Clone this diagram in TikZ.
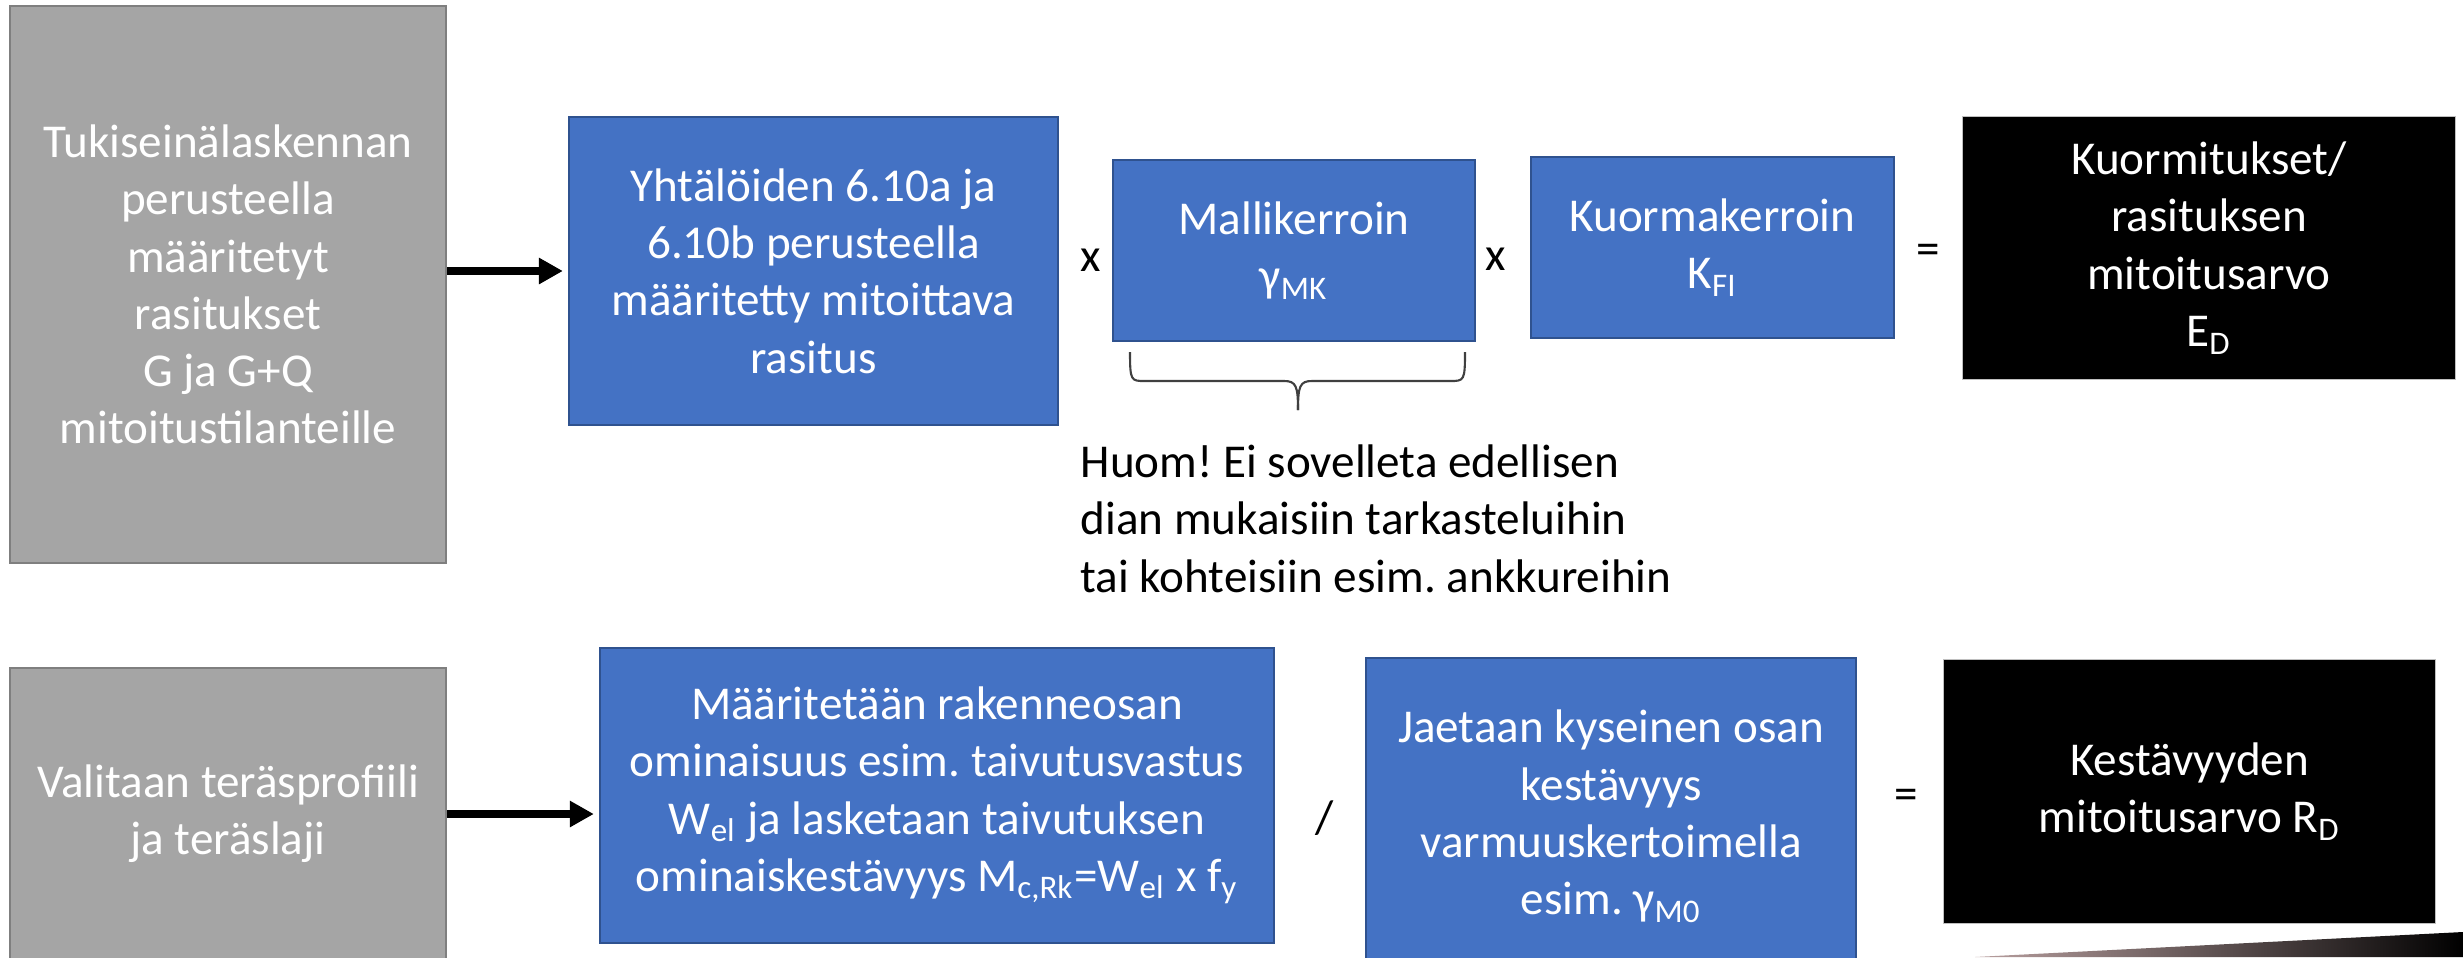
\documentclass[tikz,border=0pt]{standalone}
\usepackage{fontspec}
\setmainfont{Carlito}
\usetikzlibrary{arrows.meta}
\definecolor{boxblue}{HTML}{4472C4}
\definecolor{blueedge}{HTML}{2F528F}
\definecolor{boxgray}{HTML}{A5A5A5}
\definecolor{grayedge}{HTML}{7F7F7F}
\definecolor{blackedge}{HTML}{BFBFBF}
\definecolor{bracecol}{HTML}{404040}
\definecolor{wedgeleft}{RGB}{185,160,160}
\frenchspacing
\begin{document}
\begin{tikzpicture}[x=0.01cm,y=-0.01cm,
  every node/.style={font=\fontsize{13.4pt}{16.3pt}\selectfont, inner sep=0pt},
  box/.style={rectangle, align=center, text=white, line width=0.02cm},
  graybox/.style={box, fill=boxgray, draw=grayedge},
  bluebox/.style={box, fill=boxblue, draw=blueedge},
  blackbox/.style={box, fill=black, draw=blackedge, line width=0.01cm},
  op/.style={text=black},
  flow/.style={line width=0.08cm, -{Triangle[length=0.24cm,width=0.25cm]}, shorten >=0.05cm},
  bracestyle/.style={draw=bracecol, line width=0.6pt},
]
\useasboundingbox (0,0) rectangle (2463,957);

% top row
\node[graybox, minimum width=4.36cm, minimum height=5.57cm] (g1) at (228,284.5)
  {Tukiseinälaskennan\\perusteella\\määritetyt\\rasitukset\\G ja G+Q\\mitoitustilanteille};
\node[bluebox, minimum width=4.89cm, minimum height=3.08cm] (b1) at (813.5,271)
  {Yhtälöiden 6.10a ja\\6.10b perusteella\\määritetty mitoittava\\rasitus};
\node[op] (x1) at (1091,260) {x};
\node[bluebox, minimum width=3.62cm, minimum height=1.81cm] (b2) at (1294,250.5)
  {Mallikerroin\\γ\textsubscript{MK}};
\node[op] (x2) at (1496,259) {x};
\node[bluebox, minimum width=3.63cm, minimum height=1.81cm] (b3) at (1712.5,247.5)
  {Kuormakerroin\\K\textsubscript{FI}};
\node[op] (eq1) at (1928,254) {=};
\node[blackbox, minimum width=4.92cm, minimum height=2.62cm] (k1) at (2209,248)
  {Kuormitukset/\\rasituksen\\mitoitusarvo\\E\textsubscript{D}};

\draw[flow] (g1.east |- b1.west) -- (b1.west);

% brace under b2
\coordinate (brL) at (1130,352);
\coordinate (brR) at (1465,352);
\coordinate (brT) at (1298,410);
\draw[bracestyle] (brL) .. controls (1130,381) and (1131,381) .. (1145,381) -- (1284,381)
  .. controls (1296,381) and (1298,386) .. (brT);
\draw[bracestyle] (brR) .. controls (1465,381) and (1464,381) .. (1450,381) -- (1312,381)
  .. controls (1300,381) and (1298,386) .. (brT);

\node[op, anchor=north west, align=left] (note) at (1080,444)
  {Huom! Ei sovelleta edellisen\\dian mukaisiin tarkasteluihin\\tai kohteisiin esim. ankkureihin};

% bottom row
\node[graybox, minimum width=4.36cm, minimum height=2.92cm] (g2) at (228,814)
  {Valitaan teräsprofiili\\ja teräslaji};
\node[bluebox, minimum width=6.74cm, minimum height=2.95cm] (b4) at (937,795.5)
  {Määritetään rakenneosan\\ominaisuus esim. taivutusvastus\\W\textsubscript{el} ja lasketaan taivutuksen\\ominaiskestävyys M\textsubscript{c,Rk}=W\textsubscript{el} x f\textsubscript{y}};
\node[op] (sl) at (1325,818) {/};
\node[bluebox, minimum width=4.90cm, minimum height=3.17cm] (b5) at (1611,816.5)
  {Jaetaan kyseinen osan\\kestävyys\\varmuuskertoimella\\esim. γ\textsubscript{M0}};
\node[op] (eq2) at (1906,799) {=};
\node[blackbox, minimum width=4.91cm, minimum height=2.63cm] (k2) at (2189.5,791.5)
  {Kestävyyden\\mitoitusarvo R\textsubscript{D}};

\draw[flow] (g2.east) -- (g2.east -| b4.west);

% decorative wedge
\shade[left color=wedgeleft, right color=black] (1975,957) -- (2463,932) -- (2463,957) -- cycle;
\end{tikzpicture}
\end{document}
